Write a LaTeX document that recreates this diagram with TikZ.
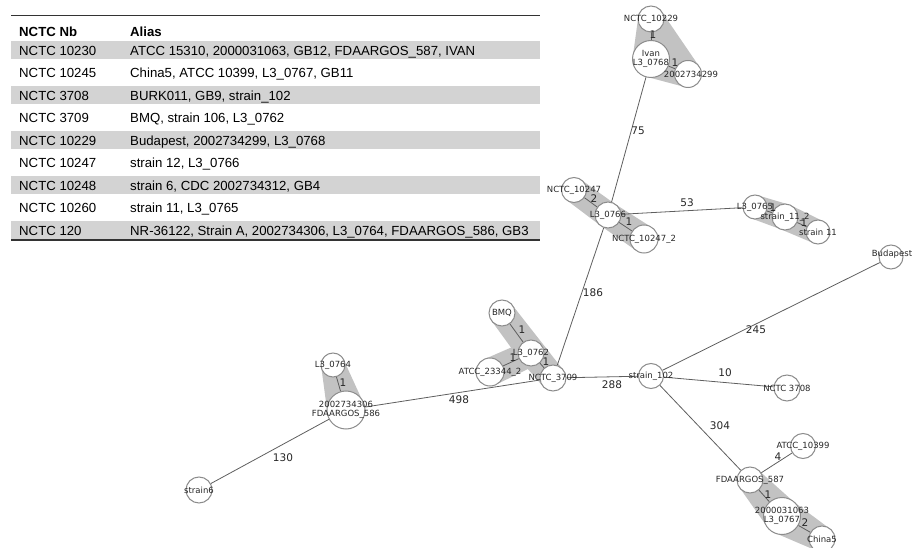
\documentclass[tikz,border=0pt]{standalone}
\usepackage{fontspec}
\setmainfont{Liberation Sans}
\newfontfamily\gfont{DejaVu Sans}
\usetikzlibrary{calc}
\definecolor{circ}{HTML}{8C8C8C}
\definecolor{hullgray}{HTML}{C2C2C2}
\definecolor{rowgray}{HTML}{D3D3D3}
\definecolor{linec}{HTML}{5E5E5E}
\pgfdeclarelayer{hulllayer}
\pgfdeclarelayer{edgelayer}
\pgfsetlayers{hulllayer,edgelayer,main}
\newcommand\hullpair[4]{\fill[hullgray] ($(#1.center)!#2pt!90:(#3.center)$) -- ($(#3.center)!#4pt!-90:(#1.center)$) -- ($(#3.center)!#4pt!90:(#1.center)$) -- ($(#1.center)!#2pt!-90:(#3.center)$) -- cycle;}
\begin{document}
\begin{tikzpicture}[x=1pt,y=-1pt,
  gn/.style={circle, draw=circ, fill=white, line width=1pt, inner sep=0pt},
  nt/.style={font=\gfont\fontsize{8.5}{9.5}\selectfont, text=black!85, align=center, inner sep=0pt},
  el/.style={font=\gfont\fontsize{10.5}{11}\selectfont, text=black!85, inner sep=0pt},
  conn/.style={draw=linec, line width=0.8pt},
  tt/.style={font=\fontsize{13.2}{15}\selectfont, anchor=base west, inner sep=0pt},
  th/.style={font=\fontsize{13.2}{15}\selectfont\bfseries, anchor=base west, inner sep=0pt},
]
\useasboundingbox (0,0) rectangle (914,548);
% ---------- table ----------
\foreach \k in {0,...,4}{
  \fill[rowgray] (11,41.5+45*\k) rectangle (540,59.5+45*\k);
}
\draw[line width=1.5pt, black!80] (11,15.5) -- (540,15.5);
\draw[line width=1.5pt, black!80] (11,240) -- (540,240);
\node[th] (hc) at (19,36.5) {NCTC Nb};
\node[th] (ha) at (130,36.5) {Alias};
\foreach \a/\b [count=\i from 0] in {
  {NCTC 10230}/{ATCC 15310, 2000031063, GB12, FDAARGOS\_587, IVAN},
  {NCTC 10245}/{China5, ATCC 10399, L3\_0767, GB11},
  {NCTC 3708}/{BURK011, GB9, strain\_102},
  {NCTC 3709}/{BMQ, strain 106, L3\_0762},
  {NCTC 10229}/{Budapest, 2002734299, L3\_0768},
  {NCTC 10247}/{strain 12, L3\_0766},
  {NCTC 10248}/{strain 6, CDC 2002734312, GB4},
  {NCTC 10260}/{strain 11, L3\_0765},
  {NCTC 120}/{NR-36122, Strain A, 2002734306, L3\_0764, FDAARGOS\_586, GB3}}{
  \node[tt] (c\i) at (19,55.2+22.5*\i) {\a};
  \node[tt] (a\i) at (130,55.2+22.5*\i) {\b};
}
% ---------- graph nodes ----------
\node[gn, minimum size=26] (n10229) at (651,19) {};
\node[gn, minimum size=37, label={[nt]center:{Ivan\\L3\_0768}}] (ivan) at (651,59) {};
\node[gn, minimum size=27] (n299) at (688,74) {};
\node[nt] (t299) at (691,74) {2002734299};
\node[nt] (t10229) at (n10229) {NCTC\_10229};
\node[gn, minimum size=25, label={[nt]center:NCTC\_10247}] (n10247) at (574,190) {};
\node[gn, minimum size=26, label={[nt]center:L3\_0766}] (l30766) at (608,215) {};
\node[gn, minimum size=28, label={[nt]center:NCTC\_10247\_2}] (n10247b) at (644,239) {};
\node[gn, minimum size=24, label={[nt]center:L3\_0765}] (l30765) at (755,207) {};
\node[gn, minimum size=26, label={[nt]center:strain\_11\_2}] (s112) at (785,217) {};
\node[gn, minimum size=24, label={[nt]center:strain 11}] (s11) at (818,232) {};
\node[gn, minimum size=24] (budapest) at (891,257) {};
\node[nt] (tbud) at (892,254) {Budapest};
\node[gn, minimum size=26, label={[nt]center:NCTC 3708}] (n3708) at (787,388) {};
\node[gn, minimum size=25, label={[nt]center:strain\_102}] (s102) at (651,376) {};
\node[gn, minimum size=25, label={[nt]center:ATCC\_10399}] (atcc10399) at (803,446) {};
\node[gn, minimum size=26, label={[nt]center:FDAARGOS\_587}] (fda587) at (750,480) {};
\node[gn, minimum size=37, label={[nt]center:{2000031063\\L3\_0767}}] (n063) at (782,516) {};
\node[gn, minimum size=26, label={[nt]center:China5}] (china5) at (822,539) {};
\node[gn, minimum size=26, label={[nt]center:BMQ}] (bmq) at (502,313) {};
\node[gn, minimum size=26, label={[nt]center:L3\_0762}] (l30762) at (531,353) {};
\node[gn, minimum size=28, label={[nt]center:ATCC\_23344\_2}] (atcc23344) at (490,372) {};
\node[gn, minimum size=26, label={[nt]center:NCTC\_3709}] (n3709) at (553,378) {};
\node[gn, minimum size=24, label={[nt]center:L3\_0764}] (l30764) at (333,365) {};
\node[gn, minimum size=38, label={[nt]center:{2002734306\\FDAARGOS\_586}}] (n306) at (346,410) {};
\node[gn, minimum size=26, label={[nt]center:strain6}] (strain6) at (199,490) {};
% ---------- hulls ----------
\begin{pgfonlayer}{hulllayer}
  \fill[hullgray] (n10229.center) -- (ivan.center) -- (n299.center) -- cycle;
  \hullpair{n10229}{13}{ivan}{18.5}
  \hullpair{ivan}{18.5}{n299}{13.5}
  \hullpair{n10229}{13}{n299}{13.5}
  \hullpair{n10247}{12.5}{l30766}{13}
  \hullpair{l30766}{13}{n10247b}{14}
  \hullpair{l30765}{12}{s112}{13}
  \hullpair{s112}{13}{s11}{12}
  \fill[hullgray] (bmq.center) -- (l30762.center) -- (n3709.center) -- cycle;
  \hullpair{bmq}{13}{l30762}{13}
  \hullpair{l30762}{13}{n3709}{13}
  \hullpair{bmq}{13}{n3709}{13}
  \hullpair{atcc23344}{14}{l30762}{13}
  \hullpair{l30764}{12}{n306}{19}
  \hullpair{fda587}{13}{n063}{18.5}
  \hullpair{n063}{18.5}{china5}{13}
\end{pgfonlayer}
% ---------- edges ----------
\begin{pgfonlayer}{edgelayer}
  \draw[conn] (ivan) -- (l30766);
  \draw[conn] (l30766) -- (n3709);
  \draw[conn] (l30766) -- (l30765);
  \draw[conn] (n3709) -- (s102);
  \draw[conn] (s102) -- (budapest);
  \draw[conn] (s102) -- (n3708);
  \draw[conn] (s102) -- (fda587);
  \draw[conn] (n306) -- (n3709);
  \draw[conn] (n306) -- (strain6);
  \draw[conn] (n10229) -- (ivan);
  \draw[conn] (ivan) -- (n299);
  \draw[conn] (n10247) -- (l30766);
  \draw[conn] (l30766) -- (n10247b);
  \draw[conn] (l30765) -- (s112);
  \draw[conn] (s112) -- (s11);
  \draw[conn] (bmq) -- (l30762);
  \draw[conn] (atcc23344) -- (l30762);
  \draw[conn] (l30762) -- (n3709);
  \draw[conn] (l30764) -- (n306);
  \draw[conn] (fda587) -- (atcc10399);
  \draw[conn] (fda587) -- (n063);
  \draw[conn] (n063) -- (china5);
\end{pgfonlayer}
% ---------- edge labels ----------
\node[el] (e1) at (653,35) {1};
\node[el] (e2) at (675,63) {1};
\node[el] (e3) at (638,131) {75};
\node[el] (e4) at (594,199) {2};
\node[el] (e5) at (629,222) {1};
\node[el] (e6) at (687,203) {53};
\node[el] (e7) at (773,208) {1};
\node[el] (e8) at (804,223) {1};
\node[el] (e9) at (593,293) {186};
\node[el] (e10) at (756,330) {245};
\node[el] (e11) at (725,373) {10};
\node[el] (e12) at (612,385) {288};
\node[el] (e13) at (720,426) {304};
\node[el] (e14) at (778,457) {4};
\node[el] (e15) at (768,495) {1};
\node[el] (e16) at (805,523) {2};
\node[el] (e17) at (522,330) {1};
\node[el] (e18) at (513,358) {1};
\node[el] (e19) at (546,362) {1};
\node[el] (e20) at (459,400) {498};
\node[el] (e21) at (343,383) {1};
\node[el] (e22) at (283,458) {130};
\end{tikzpicture}
\end{document}
